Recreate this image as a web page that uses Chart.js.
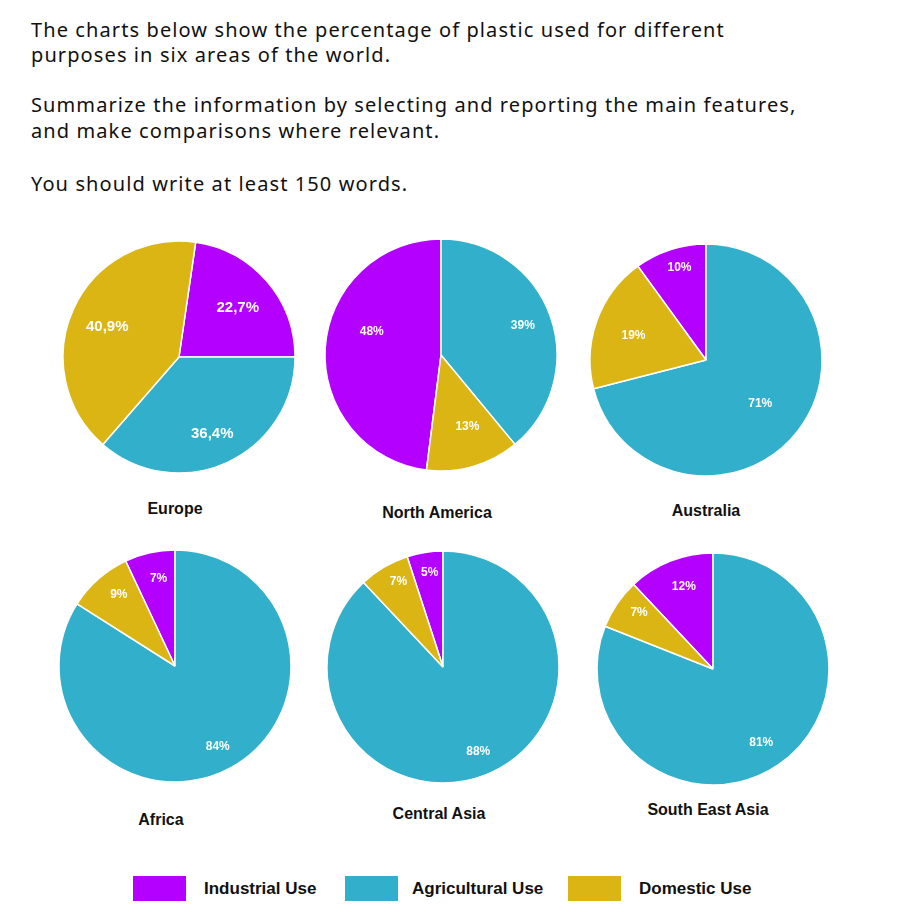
<!DOCTYPE html>
<html>
<head>
<meta charset="utf-8">
<script src="https://cdn.jsdelivr.net/npm/chart.js@4.4.1/dist/chart.umd.min.js"></script>
<style>
  body { margin: 0; background: #fff; width: 900px; height: 919px; position: relative; overflow: hidden; }
  .q { position: absolute; left: 31px; font-family: "Noto Sans", sans-serif; font-size: 20px; letter-spacing: 1.1px; color: #111; white-space: nowrap; line-height: 26px; }
  .pie { position: absolute; width: 240px; height: 240px; }
  .name { position: absolute; width: 240px; text-align: center; font-family: "Liberation Sans", Arial, sans-serif; font-weight: bold; font-size: 16px; color: #111; }
  .box { position: absolute; top: 876px; width: 53px; height: 25px; }
  .leg { position: absolute; top: 876px; line-height: 25px; font-family: "Liberation Sans", Arial, sans-serif; font-weight: bold; font-size: 17px; color: #111; }
</style>
</head>
<body>
<div class="q" style="top:17px">The charts below show the percentage of plastic used for different</div>
<div class="q" style="top:42px">purposes in six areas of the world.</div>
<div class="q" style="top:92px">Summarize the information by selecting and reporting the main features,</div>
<div class="q" style="top:118px">and make comparisons where relevant.</div>
<div class="q" style="top:171px">You should write at least 150 words.</div>
<div id="charts"></div>
<div id="legend"></div>
<script>
const regions = ['Europe', 'North America', 'Australia', 'Africa', 'Central Asia', 'South East Asia'];
const uses = ['Industrial Use', 'Agricultural Use', 'Domestic Use'];
const industrial = [22.7, 48, 10, 7, 5, 12];
const agricultural = [36.4, 39, 71, 84, 88, 81];
const domestic = [40.9, 13, 19, 9, 7, 7];

const colors = ['rgb(179, 0, 255)', 'rgb(49, 175, 203)', 'rgb(219, 181, 19)'];

// pie centre, angle where the industrial slice ends (deg), name position,
// label font, label distance (share of radius) and small angle nudge (deg)
const small = 'bold 12px "Liberation Sans", Arial, sans-serif';
const layout = [
  { cx: 179, cy: 357, end: 90, nameX: 175, nameY: 500, font: 'bold 15px "Liberation Sans", Arial, sans-serif', dist: [0.66, 0.72, 0.67], turn: [1, 1, -2] },
  { cx: 441, cy: 355, end: 0, nameX: 437, nameY: 504, font: small, dist: [0.63, 0.75, 0.66], turn: [15, 0, -4] },
  { cx: 706, cy: 360, end: 0, nameX: 706, nameY: 502, font: small, dist: [0.83, 0.6, 0.66], turn: [2, 1, -1] },
  { cx: 175, cy: 666, end: 0, nameX: 161, nameY: 811, font: small, dist: [0.77, 0.79, 0.78], turn: [2, 1, 3] },
  { cx: 443, cy: 667, end: 0, nameX: 439, nameY: 805, font: small, dist: [0.82, 0.79, 0.83], turn: [1, -1, 3] },
  { cx: 713, cy: 669, end: 0, nameX: 708, nameY: 801, font: small, dist: [0.75, 0.76, 0.8], turn: [2, 1, 3] }
];

const sliceLabels = {
  id: 'sliceLabels',
  afterDatasetsDraw(chart, args, opts) {
    const ctx = chart.ctx;
    const meta = chart.getDatasetMeta(0);
    const values = chart.data.datasets[0].data;
    ctx.save();
    ctx.fillStyle = '#fff';
    ctx.font = opts.font;
    ctx.textAlign = 'center';
    ctx.textBaseline = 'middle';
    meta.data.forEach((arc, i) => {
      const p = arc.getProps(['x', 'y', 'startAngle', 'endAngle', 'outerRadius'], true);
      const mid = (p.startAngle + p.endAngle) / 2 + opts.turn[i] * Math.PI / 180;
      const r = p.outerRadius * opts.dist[i];
      const text = String(values[i]).replace('.', ',') + '%';
      ctx.fillText(text, p.x + Math.cos(mid) * r, p.y + Math.sin(mid) * r);
    });
    ctx.restore();
  }
};

const holder = document.getElementById('charts');
regions.forEach((region, k) => {
  const L = layout[k];
  const c = document.createElement('canvas');
  c.className = 'pie';
  c.width = 240; c.height = 240;
  c.style.left = (L.cx - 120) + 'px';
  c.style.top = (L.cy - 120) + 'px';
  holder.appendChild(c);

  const name = document.createElement('div');
  name.className = 'name';
  name.textContent = region;
  name.style.left = (L.nameX - 120) + 'px';
  name.style.top = L.nameY + 'px';
  holder.appendChild(name);

  new Chart(c, {
    type: 'pie',
    data: {
      labels: uses,
      datasets: [{
        data: [industrial[k], agricultural[k], domestic[k]],
        backgroundColor: colors,
        borderColor: '#fff',
        borderWidth: 1.5
      }]
    },
    options: {
      responsive: false,
      animation: false,
      radius: 116,
      rotation: L.end - industrial[k] * 3.6,
      layout: { padding: 0 },
      plugins: {
        legend: { display: false },
        tooltip: { enabled: false },
        sliceLabels: { font: L.font, dist: L.dist, turn: L.turn }
      }
    },
    plugins: [sliceLabels]
  });
});

// legend row
const legX = [133, 345, 568];
const legTextX = [204, 412, 639];
const legend = document.getElementById('legend');
uses.forEach((u, i) => {
  const b = document.createElement('div');
  b.className = 'box';
  b.style.left = legX[i] + 'px';
  b.style.background = colors[i];
  legend.appendChild(b);
  const t = document.createElement('div');
  t.className = 'leg';
  t.style.left = legTextX[i] + 'px';
  t.textContent = u;
  legend.appendChild(t);
});
</script>
</body>
</html>
